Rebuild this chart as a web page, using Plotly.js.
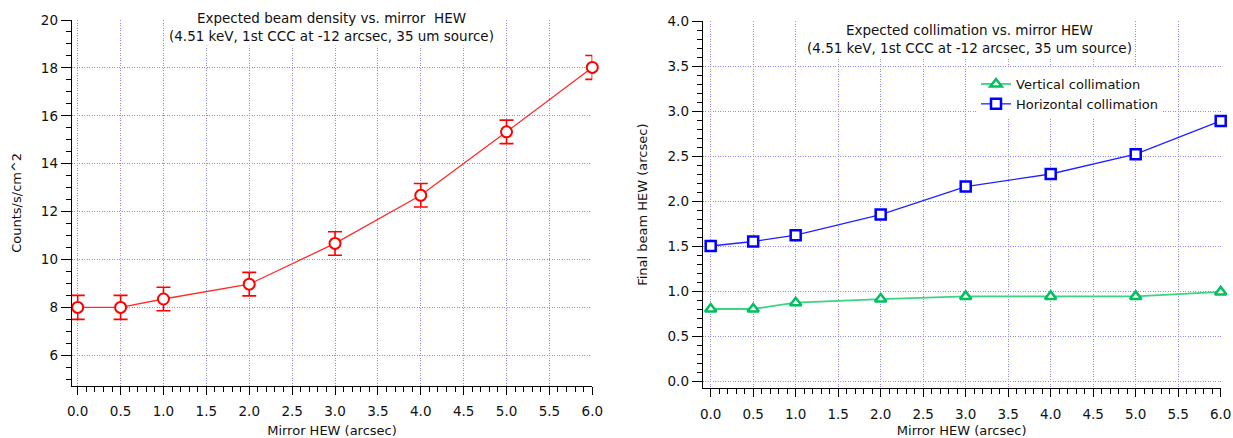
<!DOCTYPE html>
<html>
<head>
<meta charset="utf-8">
<script src="https://cdn.plot.ly/plotly-3.0.1.min.js"></script>
<style>html,body{margin:0;padding:0;background:#fff;}#chart{width:1233px;height:438px;}</style>
</head>
<body>
<div id="chart"></div>
<script>
// ---- data ----
const mirrorHEW = [0, 0.5, 1, 2, 3, 4, 5, 6];
const beamDensity = [8.0, 8.0, 8.35, 8.97, 10.67, 12.68, 15.33, 18.02];
const beamDensityErr = [0.5, 0.5, 0.49, 0.49, 0.49, 0.49, 0.49, 0.5];
const verticalCollimation = [0.80, 0.80, 0.87, 0.91, 0.94, 0.94, 0.94, 0.99];
const horizontalCollimation = [1.50, 1.55, 1.62, 1.85, 2.16, 2.30, 2.52, 2.89];
const seriesNames = ["Vertical collimation", "Horizontal collimation"];
const leftTitle = "Expected beam density vs. mirror\u00a0 HEW<br>(4.51 keV, 1st CCC at -12 arcsec, 35 um source)";
const rightTitle = "Expected collimation vs. mirror HEW<br>(4.51 keV, 1st CCC at -12 arcsec, 35 um source)";
const xTitle = "Mirror HEW (arcsec)";
const yTitleLeft = "Counts/s/cm^2";
const yTitleRight = "Final beam HEW (arcsec)";

const FONT = "DejaVu Sans, Verdana, sans-serif";
const W = 1233, H = 438;
const gridColor = "#8c8cff";
const gridDash = "1px,1.5px";

function xaxisStyle(domain, range) {
  return {
    domain: domain, range: range, showline: true, linecolor: "#000", linewidth: 1,
    mirror: false, zeroline: false, showgrid: true, gridcolor: gridColor, griddash: gridDash, gridwidth: 1,
    tick0: 0, dtick: 0.5, tickformat: ".1f", ticks: "outside", ticklen: 8, tickcolor: "#000", tickwidth: 1,
    ticklabelstandoff: 5,
    minor: {dtick: 0.1, tick0: 0, ticks: "outside", ticklen: 5, tickcolor: "#000", tickwidth: 1, showgrid: false},
    tickfont: {family: FONT, size: 13.5, color: "#111"},
    title: {text: xTitle, font: {family: FONT, size: 13, color: "#111"}, standoff: 8},
    fixedrange: true
  };
}
function yaxisStyle(domain, range, dtick, minorDtick, fmt, title, anchor, standoff) {
  return {
    domain: domain, range: range, anchor: anchor, showline: true, linecolor: "#000", linewidth: 1,
    mirror: false, zeroline: false, showgrid: true, gridcolor: gridColor, griddash: gridDash, gridwidth: 1,
    tick0: 0, dtick: dtick, tickformat: fmt, ticks: "outside", ticklen: 10, tickcolor: "#000", tickwidth: 1,
    minor: {dtick: minorDtick, tick0: 0, ticks: "outside", ticklen: 5, tickcolor: "#000", tickwidth: 1, showgrid: false},
    tickfont: {family: FONT, size: 13.5, color: "#111"},
    title: {text: title, font: {family: FONT, size: 13, color: "#111"}, standoff: standoff},
    fixedrange: true
  };
}

const traces = [
  {
    x: mirrorHEW, y: beamDensity, xaxis: "x", yaxis: "y", type: "scatter", mode: "lines+markers",
    showlegend: false, cliponaxis: false,
    line: {color: "#ff2a2a", width: 1.3},
    marker: {symbol: "circle", size: 11, color: "#fff", line: {color: "#ff0000", width: 2}},
    error_y: {type: "data", array: beamDensityErr, visible: true, color: "#ff0000", thickness: 1.6, width: 7}
  },
  {
    x: mirrorHEW, y: verticalCollimation, xaxis: "x2", yaxis: "y2", type: "scatter", mode: "lines+markers",
    name: seriesNames[0], cliponaxis: false,
    line: {color: "#3ad483", width: 1.8},
    marker: {symbol: "triangle-up", size: 10, color: "#fff", line: {color: "#00c060", width: 2.5}}
  },
  {
    x: mirrorHEW, y: horizontalCollimation, xaxis: "x2", yaxis: "y2", type: "scatter", mode: "lines+markers",
    name: seriesNames[1], cliponaxis: false,
    line: {color: "#2222ff", width: 1.3},
    marker: {symbol: "square", size: 10, color: "#fff", line: {color: "#0000ff", width: 2.5}}
  }
];

const layout = {
  width: W, height: H,
  margin: {l: 0, r: 0, t: 0, b: 0},
  paper_bgcolor: "#fff", plot_bgcolor: "#fff",
  font: {family: FONT, color: "#111"},
  xaxis: Object.assign(xaxisStyle([71.7 / W, 592.3 / W], [-0.07, 6.0]), {anchor: "y"}),
  yaxis: yaxisStyle([1 - 385.7 / H, 1 - 20 / H], [4.73, 20], 2, 0.5, "d", yTitleLeft, "x", 16),
  xaxis2: Object.assign(xaxisStyle([702.7 / W, 1220.7 / W], [-0.094, 6.0]), {anchor: "y2"}),
  yaxis2: yaxisStyle([1 - 388.3 / H, 1 - 21 / H], [-0.081, 4.0], 0.5, 0.1, ".1f", yTitleRight, "x2", 16),
  showlegend: true,
  legend: {
    x: 976 / W, y: 1 - 69 / H, xanchor: "left", yanchor: "top",
    bgcolor: "#fff", borderwidth: 0, font: {family: FONT, size: 13, color: "#111"},
    tracegroupgap: 0
  },
  annotations: [
    {text: leftTitle, xref: "paper", yref: "paper", x: 331 / W, y: 1 - 26.7 / H, xanchor: "center", yanchor: "middle",
     showarrow: false, bgcolor: "#fff", borderpad: 1, font: {family: FONT, size: 13.5, color: "#111"}},
    {text: rightTitle, xref: "paper", yref: "paper", x: 969 / W, y: 1 - 38.7 / H, xanchor: "center", yanchor: "middle",
     showarrow: false, bgcolor: "#fff", borderpad: 1, font: {family: FONT, size: 13.5, color: "#111"}}
  ]
};

Plotly.newPlot("chart", traces, layout, {staticPlot: true, displayModeBar: false});
</script>
</body>
</html>
